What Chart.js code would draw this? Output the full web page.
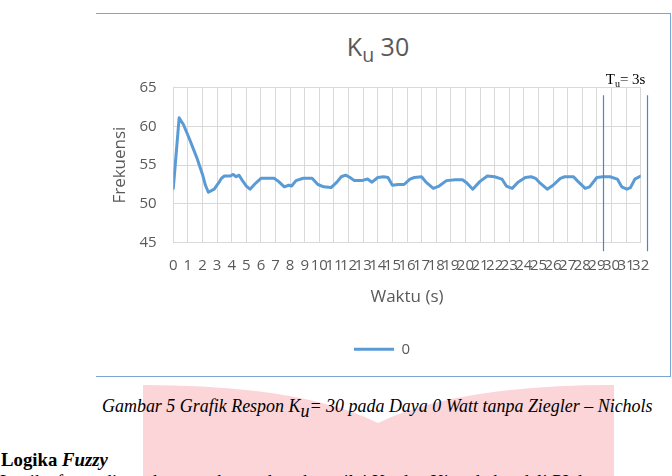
<!DOCTYPE html>
<html><head><meta charset="utf-8">
<script src="https://cdn.jsdelivr.net/npm/chart.js@4.4.1/dist/chart.umd.min.js"></script>
<style>
html,body{margin:0;padding:0;background:#fff;width:672px;height:476px;overflow:hidden;}
#wrap{position:relative;width:672px;height:476px;overflow:hidden;}
#box{position:absolute;left:96px;top:13px;width:575px;height:364px;border:1px solid #7ba3d4;border-left:none;box-sizing:border-box;}
#pink{position:absolute;left:0;top:0;}
#ctitle{position:absolute;left:278px;width:200px;top:31px;text-align:center;font-family:'Open Sans',sans-serif;font-size:25px;line-height:30px;color:#595959;}
#ctitle sub{font-size:0.78em;vertical-align:-0.32em;line-height:0;}
.doc{position:absolute;font-family:'Liberation Serif','Times New Roman',serif;color:#000;white-space:nowrap;line-height:1;}
#caption{left:102px;top:398px;font-style:italic;font-size:18px;}
#caption sub{font-size:1em;vertical-align:-0.3em;line-height:0;}
#heading{left:1px;top:451px;font-weight:bold;font-size:18.5px;}
#body{left:0;top:473px;font-size:18.5px;}
canvas{position:absolute;left:0;top:0;}
</style></head>
<body><div id="wrap">
<svg id="pink" width="672" height="476"><path d="M143,385 Q300,385 378,423 Q456,385 614,385 L614,476 L143,476 Z" fill="#fcd5d8"/></svg>
<div id="box"></div>
<div id="ctitle">K<sub>u</sub> 30</div>
<div class="doc" id="caption">Gambar 5 Grafik Respon K<sub>u</sub>= 30 pada Daya 0 Watt tanpa Ziegler – Nichols</div>
<div class="doc" id="heading">Logika <i>Fuzzy</i></div>
<div class="doc" id="body">Logika fuzzy digunakan untuk mendapatkan nilai Kp dan Ki pada kendali PI dengan</div>
<canvas id="c" width="672" height="476"></canvas>
</div>
<script>
// ---- data ----
const timeSec = [0.0,0.4,0.7,1.1,1.6,2.0,2.2,2.4,2.8,3.1,3.3,3.5,3.9,4.1,4.3,4.5,4.7,5.0,5.25,5.6,6.0,6.5,6.9,7.2,7.6,7.9,8.1,8.4,8.9,9.5,9.9,10.3,10.8,11.2,11.5,11.8,12.1,12.4,12.9,13.3,13.6,14.0,14.4,14.7,15.0,15.4,15.8,16.2,16.5,17.0,17.3,17.8,18.2,18.7,19.3,19.8,20.1,20.5,21.0,21.5,22.0,22.5,22.8,23.2,23.6,24.1,24.5,24.8,25.1,25.6,26.0,26.5,26.8,27.4,27.7,28.2,28.5,29.0,29.4,29.9,30.4,30.7,31.05,31.3,31.6,32.0];
const frekuensi = [52.0,61.1,60.2,58.4,56.0,53.8,52.4,51.5,51.9,52.7,53.3,53.6,53.6,53.8,53.5,53.7,53.1,52.3,51.9,52.6,53.3,53.3,53.3,52.9,52.2,52.4,52.3,53.0,53.3,53.3,52.5,52.2,52.1,52.8,53.5,53.7,53.4,53.0,53.0,53.2,52.8,53.4,53.5,53.4,52.4,52.5,52.5,53.2,53.4,53.5,52.8,52.0,52.3,53.0,53.1,53.1,52.7,51.9,52.9,53.6,53.5,53.2,52.3,52.0,52.8,53.4,53.5,53.3,52.7,51.9,52.4,53.3,53.5,53.5,52.9,52.0,52.2,53.4,53.5,53.5,53.2,52.2,51.9,52.1,53.2,53.6];
const seriesName = '0';
const xTickLabels = ['0','1','2','3','4','5','6','7','8','9','10','11','12','13','14','15','16','17','18','19','20','21','22','23','24','25','26','27','28','29','30','31','32'];
const yTickValues = [45,50,55,60,65];
const tuMarkerTimes = [29.4, 32.4];
const tuMarkerSpan = [64.0, 43.9];
const tuLabel = ['T','u','= 3s'];

// fit document text widths
function fitWidth(id, target){
  const el = document.getElementById(id);
  const w = el.getBoundingClientRect().width;
  const fs = parseFloat(getComputedStyle(el).fontSize);
  el.style.fontSize = (fs*target/w)+'px';
}
fitWidth('caption', 551);
fitWidth('heading', 107);

Chart.defaults.font.family = "'Open Sans', sans-serif";
Chart.defaults.color = '#595959';

const tuPlugin = {
  id: 'tuMarkers',
  afterDraw(chart){
    const {ctx, scales:{x, y}} = chart;
    ctx.save();
    ctx.strokeStyle = '#4a86c8';
    ctx.lineWidth = 1.2;
    ctx.setLineDash([]);
    tuMarkerTimes.forEach(t => {
      const px = Math.round(x.getPixelForValue(t)) + 0.5;
      ctx.beginPath();
      ctx.moveTo(px, y.getPixelForValue(tuMarkerSpan[0]));
      ctx.lineTo(px, y.getPixelForValue(tuMarkerSpan[1]));
      ctx.stroke();
    });
    let tx = x.getPixelForValue(tuMarkerTimes[0]) + 3;
    const ty = y.getPixelForValue(yTickValues[yTickValues.length-1]) - 4;
    ctx.fillStyle = '#000';
    ctx.textBaseline = 'alphabetic';
    ctx.textAlign = 'left';
    ctx.font = "15px 'Liberation Serif', serif";
    ctx.fillText(tuLabel[0], tx, ty); tx += ctx.measureText(tuLabel[0]).width;
    ctx.font = "10px 'Liberation Serif', serif";
    ctx.fillText(tuLabel[1], tx, ty + 3); tx += ctx.measureText(tuLabel[1]).width;
    ctx.font = "15px 'Liberation Serif', serif";
    ctx.fillText(tuLabel[2], tx, ty);
    ctx.restore();
  }
};

new Chart(document.getElementById('c'), {
  type: 'line',
  data: {
    datasets: [{
      label: seriesName,
      data: timeSec.map((t, i) => ({x: t, y: frekuensi[i]})),
      borderColor: '#5b9bd5',
      backgroundColor: '#5b9bd5',
      borderWidth: 3,
      pointRadius: 0,
      tension: 0,
      borderJoinStyle: 'round',
      borderCapStyle: 'round'
    }]
  },
  options: {
    responsive: false,
    animation: false,
    layout: {padding: {left: 123.3, right: 31.3, top: 87.5, bottom: 109.2}},
    plugins: {
      title: {display: false},
      tooltip: {enabled: false},
      legend: {
        position: 'bottom',
        labels: {usePointStyle: true, pointStyle: 'line', pointStyleWidth: 40, font: {size: 15}, color: '#595959', padding: 10}
      }
    },
    scales: {
      x: {
        type: 'linear', min: 0, max: 32,
        afterFit: s => { s.height = 89.1; },
        afterBuildTicks: s => { s.ticks = xTickLabels.map((l, i) => ({value: i})); },
        ticks: {autoSkip: false, maxRotation: 0, minRotation: 0, padding: 14, font: {size: 15}, color: '#595959',
                callback: (v, i) => xTickLabels[i]},
        grid: {color: '#d9d9d9', lineWidth: 1, drawTicks: false},
        border: {color: '#d9d9d9'},
        title: {display: true, text: 'Waktu (s)', font: {size: 17}, color: '#595959', padding: {top: 0, bottom: 24.9}}
      },
      y: {
        min: 45, max: 65,
        afterFit: s => { s.width = 50; },
        afterBuildTicks: s => { s.ticks = yTickValues.map(v => ({value: v})); },
        ticks: {padding: 16.6, font: {size: 15}, color: '#595959'},
        grid: {color: '#d9d9d9', lineWidth: 1, drawTicks: false},
        border: {color: '#d9d9d9'},
        title: {display: true, text: 'Frekuensi', font: {size: 17}, color: '#595959', padding: {top: -13.5, bottom: 0}}
      }
    }
  },
  plugins: [tuPlugin]
});
</script>
</body></html>
